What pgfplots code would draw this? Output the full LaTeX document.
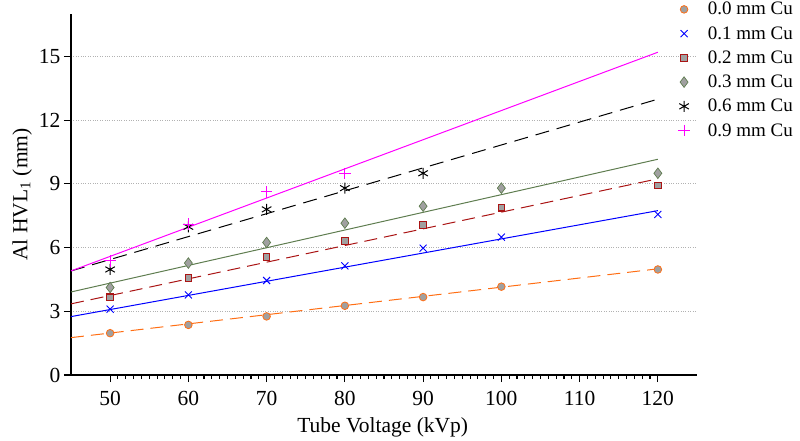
\documentclass[border=0pt]{standalone}
\usepackage{pgfplots}
\pgfplotsset{compat=1.18}
\usepackage{fontspec}
\setmainfont{Liberation Serif}
\definecolor{cOrange}{RGB}{255,110,20}
\definecolor{cRed}{RGB}{170,20,20}
\definecolor{cGreen}{RGB}{95,125,80}
\definecolor{cMag}{RGB}{255,0,255}
\definecolor{cFill}{RGB}{160,160,160}
\begin{document}
\begin{tikzpicture}
\path[use as bounding box] (-71pt,-65pt) rectangle (729pt,375pt);
\begin{axis}[
  scale only axis,
  width=626pt, height=361pt,
  xmin=45, xmax=125, ymin=0, ymax=17,
  axis x line*=bottom, axis y line*=left,
  axis line style={line width=1.3pt},
  xtick={50,60,...,120}, ytick={0,3,...,15},
  minor x tick num=9,
  tick align=outside,
  major tick length=7pt, minor tick length=4pt,
  every tick/.style={black, line width=1.1pt},
  ymajorgrids,
  grid style={dotted, gray!60, line width=0.8pt},
  tick label style={font=\fontsize{21.5}{24}\selectfont},
  xticklabel style={yshift=-6pt},
  /pgf/number format/assume math mode=true,
  xlabel={Tube Voltage (kVp)},
  ylabel={Al HVL\textsubscript{1} (mm)},
  label style={font=\fontsize{21.5}{24}\selectfont},
  xlabel style={at={(axis description cs:0.498,-0.146)}, anchor=center},
  ylabel style={at={(axis description cs:-0.078,0.5)}, anchor=center},
  clip=false,
  legend cell align=left,
  legend style={draw=none, fill=none, at={(0.965,1.044)}, anchor=north west,
    font=\fontsize{19}{22}\selectfont, row sep=6.1pt,
    /tikz/every odd column/.append style={column sep=16pt}},
]
% fit lines
\addplot[cOrange, dash pattern=on 13pt off 7pt, line width=1pt, forget plot] coordinates {(45,1.76) (120,5.0)};
\addplot[blue, line width=1pt, forget plot] coordinates {(45,2.75) (120,7.74)};
\addplot[cRed, dash pattern=on 13pt off 7pt, line width=1pt, forget plot] coordinates {(45,3.35) (120,9.24)};
\addplot[cGreen, line width=1pt, forget plot] coordinates {(45,3.91) (120,10.16)};
\addplot[black, dash pattern=on 14pt off 8pt, line width=1pt, forget plot] coordinates {(45,4.9) (120,12.99)};
\addplot[cMag, line width=1pt, forget plot] coordinates {(45,4.9) (120,15.2)};
% data
\addplot[only marks, mark=*, mark size=3.8pt, mark options={fill=cFill, draw=cOrange, line width=0.8pt}]
  coordinates {(50,1.97) (60,2.36) (70,2.76) (80,3.26) (90,3.67) (100,4.16) (120,4.97)};
\addlegendentry{0.0 mm Cu}
\addplot[only marks, mark=x, mark size=5pt, mark options={draw=blue, line width=0.9pt}]
  coordinates {(50,3.1) (60,3.77) (70,4.45) (80,5.14) (90,5.97) (100,6.49) (120,7.56)};
\addlegendentry{0.1 mm Cu}
\addplot[only marks, mark=square*, mark size=3.3pt, mark options={fill=cFill, draw=cRed, line width=1.1pt}]
  coordinates {(50,3.66) (60,4.57) (70,5.55) (80,6.3) (90,7.07) (100,7.88) (120,8.92)};
\addlegendentry{0.2 mm Cu}
\addplot[only marks, mark=diamond*, mark size=5.3pt, mark options={fill=cFill, draw=cGreen, line width=0.7pt}]
  coordinates {(50,4.12) (60,5.27) (70,6.24) (80,7.15) (90,7.95) (100,8.8) (120,9.5)};
\addlegendentry{0.3 mm Cu}
\addplot[only marks, mark=asterisk, mark size=5.5pt, mark options={draw=black, line width=1pt}]
  coordinates {(50,4.97) (60,6.98) (70,7.8) (80,8.8) (90,9.5)};
\addlegendentry{0.6 mm Cu}
\addplot[only marks, mark=+, mark size=5.8pt, mark options={draw=cMag, line width=1pt}]
  coordinates {(50,5.38) (60,7.1) (70,8.62) (80,9.48)};
\addlegendentry{0.9 mm Cu}
\end{axis}
\end{tikzpicture}
\end{document}
